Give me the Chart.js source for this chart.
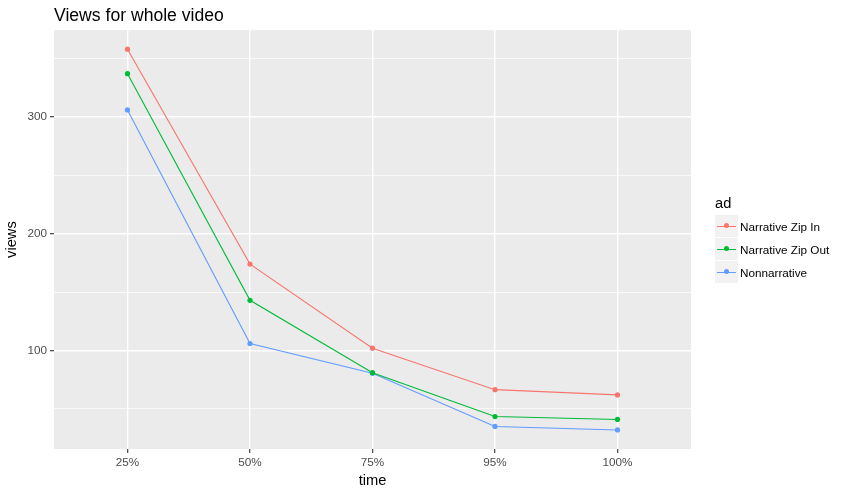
<!DOCTYPE html>
<html>
<head>
<meta charset="utf-8">
<script src="https://cdn.jsdelivr.net/npm/chart.js@4/dist/chart.umd.min.js"></script>
<style>
html,body{margin:0;padding:0;background:#fff;}
#wrap{position:relative;width:846px;height:493px;}
#legend{position:absolute;left:715px;top:196px;font-family:"Liberation Sans",Arial,sans-serif;}
#legend .t{font-size:14.67px;color:#000;height:19px;line-height:14px;}
#legend .row{display:flex;align-items:center;height:23px;}
#legend .key{width:23px;height:22px;background:#F2F2F2;position:relative;margin-bottom:1px;}
#legend .key .ln{position:absolute;left:2px;right:2px;top:10.5px;height:1.1px;}
#legend .key .pt{position:absolute;left:9px;top:8px;width:5px;height:5px;border-radius:50%;}
#legend .lab{font-size:11.73px;color:#000;margin-left:2px;}
</style>
</head>
<body>
<div id="wrap">
<canvas id="c" width="846" height="493"></canvas>
<div id="legend"></div>
</div>
<script>
const chartTitle = 'Views for whole video';
const timeLabels = ['25%', '50%', '75%', '95%', '100%'];
const seriesNames = ['Narrative Zip In', 'Narrative Zip Out', 'Nonnarrative'];
const seriesColors = ['#F8766D', '#00BA38', '#619CFF'];
const zipIn = [358, 174, 102, 66.5, 62];
const zipOut = [337, 143, 81, 43.5, 41];
const nonnarrative = [306, 106, 80.5, 35, 32];
const yMajorTicks = [100, 200, 300];

const seriesValues = [zipIn, zipOut, nonnarrative];

const datasets = seriesNames.map((name, s) => ({
  label: name,
  data: seriesValues[s].map((v, i) => ({x: i, y: v})),
  borderColor: seriesColors[s],
  backgroundColor: seriesColors[s],
  borderWidth: 1.1,
  pointRadius: 2.6,
  pointBorderWidth: 0,
  pointHoverRadius: 2.6,
  tension: 0,
  fill: false
}));

const allVals = seriesValues.flat();
const vmin = Math.min(...allVals), vmax = Math.max(...allVals);
const span = vmax - vmin;

const panelBg = {
  id: 'panelBg',
  beforeDraw(chart) {
    const {ctx, chartArea: a} = chart;
    ctx.save();
    ctx.fillStyle = '#EBEBEB';
    ctx.fillRect(a.left, a.top, a.right - a.left, a.bottom - a.top);
    ctx.restore();
  }
};

const FONT = '"Liberation Sans", Arial, sans-serif';

new Chart(document.getElementById('c'), {
  type: 'line',
  data: {datasets},
  plugins: [panelBg],
  options: {
    responsive: false,
    animation: false,
    devicePixelRatio: 1,
    layout: {padding: {left: 0, right: 155, top: 0, bottom: 0}},
    plugins: {
      legend: {display: false},
      tooltip: {enabled: false},
      title: {
        display: true,
        text: chartTitle,
        align: 'start',
        fullSize: false,
        color: '#000',
        font: {family: FONT, size: 17.6, weight: 'normal', lineHeight: 1.2},
        padding: {top: 6, bottom: 3}
      }
    },
    scales: {
      x: {
        type: 'linear',
        min: -0.6,
        max: timeLabels.length - 1 + 0.6,
        afterFit(scale) { scale.height = 44; },
        border: {display: false},
        grid: {
          color: '#FFFFFF',
          lineWidth: 1.42,
          tickColor: '#333333',
          tickLength: 4,
          tickWidth: 1.1
        },
        ticks: {
          stepSize: 1,
          includeBounds: false,
          autoSkip: false,
          maxRotation: 0,
          padding: 3,
          color: '#4D4D4D',
          font: {family: FONT, size: 11.73},
          callback: (v) => Number.isInteger(v) && timeLabels[v] !== undefined ? timeLabels[v] : ''
        },
        title: {
          display: true,
          text: 'time',
          color: '#000',
          font: {family: FONT, size: 14.67},
          padding: {top: 0, bottom: 3}
        }
      },
      y: {
        type: 'linear',
        min: vmin - span * 0.05,
        max: vmax + span * 0.05,
        afterFit(scale) { scale.width = 54; },
        border: {display: false},
        grid: {
          color: '#FFFFFF',
          lineWidth: (c) => yMajorTicks.includes(c.tick && c.tick.value) ? 1.42 : 0.71,
          tickColor: (c) => yMajorTicks.includes(c.tick && c.tick.value) ? '#333333' : 'rgba(0,0,0,0)',
          tickLength: 4,
          tickWidth: 1.1
        },
        ticks: {
          stepSize: 50,
          includeBounds: false,
          padding: 3,
          color: '#4D4D4D',
          font: {family: FONT, size: 11.73},
          callback: (v) => yMajorTicks.includes(v) ? String(v) : ''
        },
        title: {
          display: true,
          text: 'views',
          color: '#000',
          font: {family: FONT, size: 14.67},
          padding: {top: 3, bottom: 0}
        }
      }
    }
  }
});

// legend (HTML), built from the series arrays
const lg = document.getElementById('legend');
const t = document.createElement('div');
t.className = 't';
t.textContent = 'ad';
lg.appendChild(t);
seriesNames.forEach((n, i) => {
  const row = document.createElement('div');
  row.className = 'row';
  row.innerHTML = '<div class="key"><div class="ln" style="background:' + seriesColors[i] + '"></div><div class="pt" style="background:' + seriesColors[i] + '"></div></div><div class="lab"></div>';
  row.querySelector('.lab').textContent = n;
  lg.appendChild(row);
});
</script>
</body>
</html>
